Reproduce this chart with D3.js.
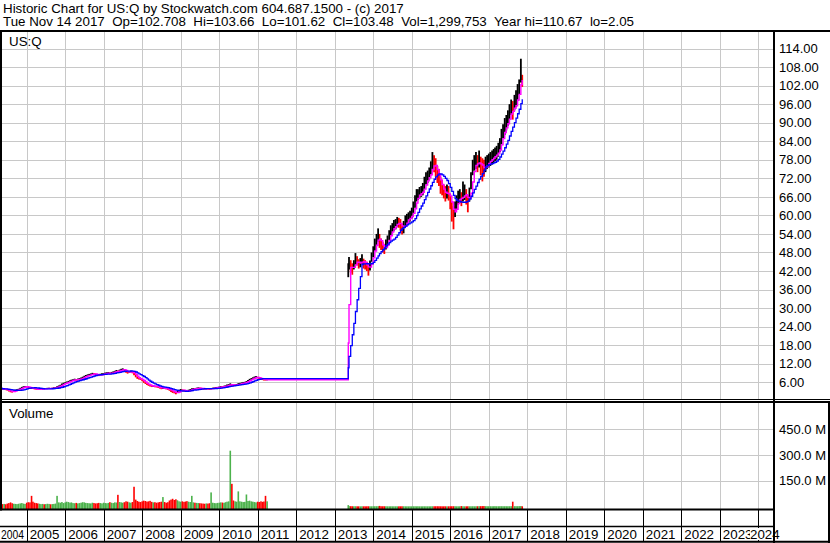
<!DOCTYPE html>
<html><head><meta charset="utf-8">
<script src="https://cdn.jsdelivr.net/npm/d3@7"></script>
<style>
html,body{margin:0;padding:0;background:#fff;}
svg{display:block;font-family:"Liberation Sans",Arial,sans-serif;}
text{white-space:pre;}
</style></head><body>
<svg id="c" width="830" height="543"></svg>
<script>
const title = "Historic Chart for US:Q by Stockwatch.com 604.687.1500 - (c) 2017";
const quote = "Tue Nov 14 2017  Op=102.708  Hi=103.66  Lo=101.62  Cl=103.48  Vol=1,299,753  Year hi=110.67  lo=2.05";
const symbol = "US:Q";
const volumeTitle = "Volume";
const yearLabels = [2004,2005,2006,2007,2008,2009,2010,2011,2012,2013,2014,2015,2016,2017,2018,2019,2020,2021,2022,2023,2024];
const priceTicks = [6,12,18,24,30,36,42,48,54,60,66,72,78,84,90,96,102,108,114];
const volumeTicks = [150,300,450];

const dates = [
"2004-04-16","2004-05-01","2004-05-16","2004-06-01","2004-06-16","2004-07-01","2004-07-16","2004-08-01","2004-08-16","2004-09-01","2004-09-16","2004-10-01","2004-10-16","2004-11-01","2004-11-16","2004-12-01","2004-12-16",
"2005-01-01","2005-01-16","2005-02-01","2005-02-16","2005-03-01","2005-03-16","2005-04-01","2005-04-16","2005-05-01","2005-05-16","2005-06-01","2005-06-16","2005-07-01","2005-07-16","2005-08-01","2005-08-16","2005-09-01","2005-09-16","2005-10-01","2005-10-16","2005-11-01","2005-11-16","2005-12-01","2005-12-16",
"2006-01-01","2006-01-16","2006-02-01","2006-02-16","2006-03-01","2006-03-16","2006-04-01","2006-04-16","2006-05-01","2006-05-16","2006-06-01","2006-06-16","2006-07-01","2006-07-16","2006-08-01","2006-08-16","2006-09-01","2006-09-16","2006-10-01","2006-10-16","2006-11-01","2006-11-16","2006-12-01","2006-12-16",
"2007-01-01","2007-01-16","2007-02-01","2007-02-16","2007-03-01","2007-03-16","2007-04-01","2007-04-16","2007-05-01","2007-05-16","2007-06-01","2007-06-16","2007-07-01","2007-07-16","2007-08-01","2007-08-16","2007-09-01","2007-09-16","2007-10-01","2007-10-16","2007-11-01","2007-11-16","2007-12-01","2007-12-16",
"2008-01-01","2008-01-16","2008-02-01","2008-02-16","2008-03-01","2008-03-16","2008-04-01","2008-04-16","2008-05-01","2008-05-16","2008-06-01","2008-06-16","2008-07-01","2008-07-16","2008-08-01","2008-08-16","2008-09-01","2008-09-16","2008-10-01","2008-10-16","2008-11-01","2008-11-16","2008-12-01","2008-12-16",
"2009-01-01","2009-01-16","2009-02-01","2009-02-16","2009-03-01","2009-03-16","2009-04-01","2009-04-16","2009-05-01","2009-05-16","2009-06-01","2009-06-16","2009-07-01","2009-07-16","2009-08-01","2009-08-16","2009-09-01","2009-09-16","2009-10-01","2009-10-16","2009-11-01","2009-11-16","2009-12-01","2009-12-16",
"2010-01-01","2010-01-16","2010-02-01","2010-02-16","2010-03-01","2010-03-16","2010-04-01","2010-04-16","2010-05-01","2010-05-16","2010-06-01","2010-06-16","2010-07-01","2010-07-16","2010-08-01","2010-08-16","2010-09-01","2010-09-16","2010-10-01","2010-10-16","2010-11-01","2010-11-16","2010-12-01","2010-12-16",
"2011-01-01","2011-01-16","2011-02-01","2011-02-16","2011-03-01","2011-03-16","2011-03-31",
"2013-05-09","2013-05-16","2013-06-01","2013-06-16","2013-07-01","2013-07-16","2013-08-01","2013-08-16","2013-09-01","2013-09-16","2013-10-01","2013-10-16","2013-11-01","2013-11-16","2013-12-01","2013-12-16",
"2014-01-01","2014-01-16","2014-02-01","2014-02-16","2014-03-01","2014-03-16","2014-04-01","2014-04-16","2014-05-01","2014-05-16","2014-06-01","2014-06-16","2014-07-01","2014-07-16","2014-08-01","2014-08-16","2014-09-01","2014-09-16","2014-10-01","2014-10-16","2014-11-01","2014-11-16","2014-12-01","2014-12-16",
"2015-01-01","2015-01-16","2015-02-01","2015-02-16","2015-03-01","2015-03-16","2015-04-01","2015-04-16","2015-05-01","2015-05-16","2015-06-01","2015-06-16","2015-07-01","2015-07-16","2015-08-01","2015-08-16","2015-09-01","2015-09-16","2015-10-01","2015-10-16","2015-11-01","2015-11-16","2015-12-01","2015-12-16",
"2016-01-01","2016-01-16","2016-02-01","2016-02-16","2016-03-01","2016-03-16","2016-04-01","2016-04-16","2016-05-01","2016-05-16","2016-06-01","2016-06-16","2016-07-01","2016-07-16","2016-08-01","2016-08-16","2016-09-01","2016-09-16","2016-10-01","2016-10-16","2016-11-01","2016-11-16","2016-12-01","2016-12-16",
"2017-01-01","2017-01-16","2017-02-01","2017-02-16","2017-03-01","2017-03-16","2017-04-01","2017-04-16","2017-05-01","2017-05-16","2017-06-01","2017-06-16","2017-07-01","2017-07-16","2017-08-01","2017-08-16","2017-09-01","2017-09-16","2017-10-01","2017-10-16","2017-11-01","2017-11-14"
];

const closes = [
4.05,3.90,3.75,3.80,3.65,3.45,3.20,2.95,2.85,3.15,3.40,3.55,3.70,4.00,4.30,4.50,4.60,
4.50,4.35,4.20,4.05,3.95,3.85,3.75,3.65,3.75,3.85,3.90,3.85,3.95,4.00,4.05,3.95,4.05,4.15,4.25,4.45,4.70,4.95,5.35,5.60,
5.75,5.95,6.20,6.40,6.55,6.75,6.85,6.70,6.90,7.05,7.25,7.50,7.80,8.05,8.25,8.40,8.55,8.75,8.70,8.55,8.35,8.25,8.45,8.60,
8.70,8.85,8.95,9.00,8.80,9.05,9.20,9.40,9.65,9.50,9.80,10.05,10.20,9.95,9.40,9.10,9.30,9.45,9.20,8.60,7.90,7.40,7.15,7.00,
6.60,6.10,5.70,5.40,5.10,4.85,4.70,4.80,4.65,4.55,4.40,4.20,4.00,4.10,4.00,3.90,3.80,3.55,3.20,2.90,2.75,2.50,2.85,3.25,
3.55,3.40,3.30,3.20,3.10,3.35,3.55,3.80,3.90,3.85,4.00,4.10,4.05,3.95,3.90,3.85,3.95,3.90,3.80,3.95,4.05,4.15,4.25,4.30,
4.40,4.55,4.50,4.65,4.80,5.00,5.15,5.35,5.10,5.00,5.10,5.20,5.45,5.55,5.70,5.85,5.90,6.15,6.45,6.80,7.05,7.30,7.55,7.70,
7.50,7.25,7.05,6.95,6.85,6.80,6.85,
42.5,44.0,43.0,42.5,44.0,45.5,45.0,44.0,44.8,45.8,44.5,44.0,43.5,42.5,43.8,46.5,
48.5,50.5,52.0,53.5,51.5,50.5,49.5,48.8,50.5,51.8,53.5,55.0,55.5,56.5,57.0,57.8,57.5,56.8,55.5,56.0,58.0,58.5,59.0,59.5,
60.5,62.0,64.0,66.0,66.5,67.0,67.5,68.0,70.0,71.5,72.0,73.0,74.5,77.0,76.5,75.0,73.0,72.0,69.5,68.5,67.5,66.5,67.5,67.0,
64.5,61.5,60.0,62.0,64.0,65.5,66.0,65.0,66.5,67.5,66.0,64.0,66.5,71.0,75.0,76.5,77.0,76.5,77.5,76.0,75.5,75.0,76.0,77.0,
77.5,78.0,78.5,79.0,79.5,80.0,81.0,82.5,85.0,87.0,88.5,89.5,91.0,93.0,94.5,93.5,96.0,97.0,99.0,101.5,106.5,103.5
];

const highs = [
4.30,4.15,4.00,4.00,3.85,3.75,3.50,3.25,3.10,3.35,3.60,3.75,3.90,4.20,4.50,4.70,4.80,
4.70,4.60,4.45,4.30,4.15,4.05,3.95,3.85,3.95,4.05,4.10,4.05,4.15,4.20,4.25,4.15,4.25,4.35,4.45,4.70,4.95,5.20,5.60,5.85,
6.00,6.25,6.45,6.65,6.85,7.00,7.15,7.00,7.20,7.35,7.55,7.80,8.10,8.35,8.55,8.70,8.85,9.05,9.00,8.85,8.65,8.55,8.75,8.90,
9.00,9.15,9.25,9.30,9.15,9.35,9.50,9.70,9.95,9.85,10.10,10.35,10.50,10.30,9.85,9.45,9.60,9.75,9.55,9.10,8.40,7.85,7.50,7.30,
7.00,6.50,6.05,5.70,5.40,5.15,5.00,5.05,4.90,4.80,4.65,4.45,4.25,4.30,4.25,4.15,4.05,3.90,3.60,3.30,3.10,2.85,3.20,3.55,
3.80,3.70,3.60,3.50,3.40,3.60,3.80,4.05,4.15,4.10,4.25,4.35,4.30,4.20,4.10,4.05,4.15,4.10,4.00,4.15,4.25,4.35,4.45,4.50,
4.60,4.75,4.75,4.85,5.00,5.25,5.40,5.65,5.40,5.25,5.35,5.45,5.70,5.80,5.95,6.10,6.15,6.40,6.75,7.10,7.35,7.60,7.85,8.00,
7.80,7.55,7.35,7.20,7.10,7.05,7.05,
44.5,46.5,45.5,44.5,45.5,47.8,46.8,45.8,46.2,47.4,46.0,45.5,45.0,44.5,45.4,48.0,
50.0,52.5,54.0,55.8,54.0,52.5,51.5,50.8,52.2,53.5,55.2,56.8,57.5,58.5,58.8,59.5,59.2,58.8,57.5,58.2,60.0,60.5,61.0,61.5,
62.5,64.5,66.5,68.5,68.5,69.2,69.5,70.5,72.5,74.0,74.5,75.5,77.5,80.5,79.5,78.5,76.0,75.0,72.5,71.5,70.0,69.5,70.0,69.5,
67.0,64.5,63.0,64.5,66.5,68.0,68.5,67.5,71.0,70.0,68.5,66.5,69.0,74.0,78.0,79.5,80.5,79.5,81.0,79.0,78.5,78.0,79.0,79.5,
80.0,80.5,81.0,81.5,82.0,82.5,83.5,85.0,88.0,89.5,91.5,92.5,94.0,96.0,97.5,97.0,99.0,100.5,102.5,104.0,110.7,105.5
];

const lows = [
3.80,3.70,3.55,3.60,3.45,3.30,3.00,2.75,2.65,2.85,3.15,3.35,3.50,3.75,4.05,4.30,4.40,
4.30,4.15,4.00,3.85,3.80,3.70,3.60,3.50,3.60,3.70,3.75,3.70,3.80,3.85,3.90,3.80,3.90,4.00,4.10,4.25,4.50,4.75,5.10,5.35,
5.50,5.70,5.95,6.15,6.30,6.50,6.60,6.45,6.65,6.80,7.00,7.25,7.55,7.80,8.00,8.15,8.30,8.50,8.45,8.30,8.10,8.00,8.20,8.35,
8.45,8.60,8.70,8.75,8.55,8.80,8.95,9.15,9.40,9.25,9.55,9.80,9.90,9.70,9.10,8.80,9.05,9.20,8.90,8.30,7.60,7.10,6.90,6.75,
6.35,5.80,5.45,5.15,4.85,4.60,4.45,4.55,4.40,4.30,4.15,3.95,3.75,3.85,3.80,3.70,3.55,3.25,2.85,2.55,2.40,2.10,2.55,2.95,
3.30,3.15,3.05,2.95,2.85,3.10,3.30,3.55,3.65,3.60,3.75,3.85,3.80,3.70,3.65,3.60,3.70,3.65,3.55,3.70,3.85,3.95,4.05,4.10,
4.20,4.35,4.30,4.45,4.60,4.80,4.95,5.10,4.85,4.75,4.85,4.95,5.20,5.30,5.45,5.60,5.65,5.90,6.20,6.55,6.80,7.05,7.30,7.45,
7.25,7.00,6.80,6.70,6.60,6.55,6.65,
40.0,42.5,41.5,40.8,42.5,44.0,43.8,42.8,43.2,44.2,42.8,42.5,42.0,40.5,42.2,45.0,
46.5,48.5,50.0,51.5,49.5,48.8,48.0,47.5,49.0,50.2,52.0,53.5,54.2,55.0,55.5,56.2,56.0,55.2,53.8,54.2,56.5,57.0,57.5,58.0,
59.0,60.5,62.5,64.5,65.0,65.5,66.0,66.5,68.5,70.0,70.5,71.5,73.0,75.0,74.0,72.5,70.5,69.5,67.0,66.5,65.5,64.5,65.5,64.8,
62.0,58.0,55.5,59.5,62.0,63.5,64.0,63.0,64.5,65.0,63.5,61.0,64.5,68.5,73.0,74.5,75.0,74.0,75.5,73.0,71.0,72.5,74.0,75.0,
75.5,76.0,76.5,77.0,77.5,78.0,79.0,80.5,83.0,85.0,86.0,87.5,89.0,91.0,92.5,91.0,94.0,95.0,97.0,99.0,103.0,101.6
];

// volume in millions of shares
const volumes = [
18,16,14,15,13,17,20,24,19,16,15,14,16,18,20,17,15,
22,25,24,62,28,22,20,18,16,14,15,13,14,16,15,13,14,15,17,62,24,22,26,20,
24,28,26,22,24,20,19,21,18,20,22,25,24,21,20,19,18,22,20,18,19,21,20,18,
22,20,19,21,25,22,20,24,23,68,26,24,22,25,30,28,24,22,26,115,40,32,28,26,
30,34,32,28,30,33,27,24,25,22,24,26,28,55,26,22,25,35,40,45,38,42,36,30,
28,30,27,29,31,28,26,62,24,22,21,20,19,18,17,16,18,17,19,82,22,20,19,21,
22,24,23,21,25,28,30,325,132,35,30,28,88,30,28,26,27,70,32,34,30,28,26,24,
28,26,30,27,29,62,30,
8.0,2.5,1.8,1.5,1.2,1.4,1.1,1.0,0.9,1.2,1.0,0.9,1.1,1.3,1.0,1.2,
1.3,1.5,1.6,1.4,3.5,1.5,1.3,1.4,1.2,1.1,1.0,1.1,1.0,0.9,1.0,0.9,1.0,1.1,1.2,1.3,1.1,1.0,0.9,1.1,
1.0,1.2,1.3,1.1,1.0,1.0,0.9,1.0,1.1,1.0,1.0,0.9,1.1,1.3,1.2,1.4,1.5,1.3,1.2,1.1,1.0,1.0,0.9,1.1,
1.2,1.5,1.6,1.3,1.2,1.1,1.3,2.5,1.2,1.1,1.0,1.2,1.1,1.3,1.4,1.2,1.3,1.4,1.8,2.0,2.2,2.5,1.9,1.7,
1.6,1.5,1.4,1.5,1.6,1.5,1.4,1.6,1.7,1.5,1.6,1.5,1.4,1.6,1.8,28,1.9,1.7,1.8,2.2,2.4,1.3
];

const shortWindow = 3;   // magenta moving average (records)
const longWindow = 10;   // blue moving average (records)

// ---------------------------------------------------------------
const parse = d3.timeParse("%Y-%m-%d");
const rows = dates.map((d, i) => ({
  date: parse(d), close: closes[i], high: highs[i], low: lows[i], vol: volumes[i],
  dir: i === 0 ? 0 : Math.sign(closes[i] - closes[i - 1])
}));
function movingAverage(n) {
  return rows.map((r, i) => ({
    date: r.date,
    v: d3.mean(closes.slice(Math.max(0, i - n + 1), i + 1))
  }));
}
const maShort = movingAverage(shortWindow);
const maLong = movingAverage(longWindow);

const W = 830, H = 543;
const plotL = 2, plotR = 773;
const priceTop = 32, priceBot = 399;
const volTop = 402, volBot = 509;
const font = 13.33, axisFont = 13;

const x = d3.scaleTime()
  .domain([new Date(2005, 0, 1), new Date(2024, 0, 1)])
  .range([26.7, 758.3]);
const y = d3.scaleLinear().domain([0, 120]).range([400.8, 30]);
const yv = d3.scaleLinear().domain([0, 600]).range([506.5, 403.5]);

const svg = d3.select("#c");
svg.append("rect").attr("width", W).attr("height", H).attr("fill", "#fff");
const defs = svg.append("defs");
defs.append("clipPath").attr("id", "cp").append("rect")
  .attr("x", plotL).attr("y", priceTop).attr("width", plotR - plotL).attr("height", priceBot - priceTop);
defs.append("clipPath").attr("id", "cv").append("rect")
  .attr("x", plotL).attr("y", volTop).attr("width", plotR - plotL).attr("height", volBot - volTop);

// header
svg.append("text").attr("x", 3).attr("y", 12.5).attr("font-size", font).attr("fill", "#000")
  .attr("xml:space", "preserve").text(title);
svg.append("text").attr("x", 3).attr("y", 26).attr("font-size", font).attr("fill", "#000")
  .attr("xml:space", "preserve").text(quote);

const years = yearLabels.map(yy => new Date(yy, 0, 1));
const grid = "#c8c8c8";

// price grid
const gp = svg.append("g");
gp.selectAll("line.h").data(priceTicks).join("line")
  .attr("x1", plotL).attr("x2", plotR)
  .attr("y1", d => Math.round(y(d)) + 0.5).attr("y2", d => Math.round(y(d)) + 0.5)
  .attr("stroke", grid);
gp.selectAll("line.v").data(years.filter(d => x(d) > plotL && x(d) < plotR)).join("line")
  .attr("x1", d => Math.round(x(d)) + 0.5).attr("x2", d => Math.round(x(d)) + 0.5)
  .attr("y1", priceTop).attr("y2", priceBot).attr("stroke", grid);

// volume grid
const gv = svg.append("g");
gv.selectAll("line.h").data(volumeTicks).join("line")
  .attr("x1", plotL).attr("x2", plotR)
  .attr("y1", d => Math.round(yv(d)) + 0.5).attr("y2", d => Math.round(yv(d)) + 0.5)
  .attr("stroke", grid);
gv.selectAll("line.v").data(years.filter(d => x(d) > plotL && x(d) < plotR)).join("line")
  .attr("x1", d => Math.round(x(d)) + 0.5).attr("x2", d => Math.round(x(d)) + 0.5)
  .attr("y1", volTop).attr("y2", volBot).attr("stroke", grid);

// price bars: down bars first, black bars on top
const pg = svg.append("g").attr("clip-path", "url(#cp)");
const barOrder = rows.slice().sort((a, b) => (a.dir < 0 ? 0 : 1) - (b.dir < 0 ? 0 : 1));
pg.selectAll("line.bar").data(barOrder).join("line")
  .attr("x1", d => x(d.date)).attr("x2", d => x(d.date))
  .attr("y1", d => y(d.low)).attr("y2", d => y(d.high))
  .attr("stroke", d => d.dir < 0 ? "#ff0000" : "#000000")
  .attr("stroke-width", 1.8);

const line = d3.line().x(d => x(d.date)).y(d => y(d.v)).curve(d3.curveStepAfter);
pg.append("path").datum(maShort).attr("d", line).attr("fill", "none")
  .attr("stroke", "#ff00ff").attr("stroke-width", 1.4);
pg.append("path").datum(maLong).attr("d", line).attr("fill", "none")
  .attr("stroke", "#0000ff").attr("stroke-width", 1.3);

// volume bars
const vg = svg.append("g").attr("clip-path", "url(#cv)");
vg.selectAll("rect").data(rows).join("rect")
  .attr("x", d => x(d.date) - 0.8).attr("width", 1.6)
  .attr("y", d => yv(d.vol)).attr("height", d => volBot + 1 - yv(d.vol))
  .attr("fill", d => d.dir > 0 ? "#4cb24c" : (d.dir < 0 ? "#ff0000" : "#a0a0a0"));

// panel labels
svg.append("text").attr("x", 9).attr("y", 46).attr("font-size", font).attr("fill", "#000").text(symbol);
svg.append("text").attr("x", 9).attr("y", 417.5).attr("font-size", font).attr("fill", "#000").text(volumeTitle);

// right axis labels
svg.selectAll("text.pt").data(priceTicks).join("text")
  .attr("x", 779).attr("y", d => y(d)).attr("dy", "0.36em")
  .attr("font-size", axisFont).attr("fill", "#000").text(d => d3.format(".2f")(d));
svg.selectAll("text.vt").data(volumeTicks).join("text")
  .attr("x", 779).attr("y", d => yv(d)).attr("dy", "0.36em")
  .attr("font-size", axisFont).attr("fill", "#000").text(d => d3.format(".1f")(d) + " M");

// x axis band
const xb = svg.append("g");
xb.selectAll("line").data(years.filter(d => x(d) > 0 && x(d) < plotR)).join("line")
  .attr("x1", d => Math.round(x(d)) + 0.5).attr("x2", d => Math.round(x(d)) + 0.5)
  .attr("y1", volBot).attr("y2", 542).attr("stroke", "#000");
const lbl = xb.selectAll("g.l").data(years).join("g");
lbl.each(function (d) {
  const g = d3.select(this);
  const raw = x(d) + 3;
  const tx = Math.max(1, Math.min(raw, 750));
  const bg = g.append("rect").attr("y", 528).attr("height", 12).attr("fill", "#fff");
  const t = g.append("text").attr("x", tx).attr("y", 539.3).attr("font-size", font)
    .attr("fill", "#000").text(d.getFullYear());
  if (raw < 1) t.attr("textLength", 23).attr("lengthAdjust", "spacingAndGlyphs");
  bg.attr("x", tx).attr("width", t.node().getComputedTextLength());
});

// frame lines
const frame = svg.append("g").attr("stroke", "#000").attr("fill", "none");
frame.append("line").attr("x1", 0).attr("x2", W).attr("y1", 31).attr("y2", 31).attr("stroke-width", 2);
frame.append("line").attr("x1", 1).attr("x2", 1).attr("y1", 30).attr("y2", 510.5).attr("stroke-width", 2);
frame.append("line").attr("x1", 0).attr("x2", W).attr("y1", 399.5).attr("y2", 399.5).attr("stroke-width", 1);
frame.append("line").attr("x1", 0).attr("x2", W).attr("y1", 402).attr("y2", 402).attr("stroke-width", 2);
frame.append("line").attr("x1", 0).attr("x2", 774).attr("y1", 509.5).attr("y2", 509.5).attr("stroke-width", 2);
frame.append("line").attr("x1", 0).attr("x2", 774).attr("y1", 526.5).attr("y2", 526.5).attr("stroke-width", 1.5);
frame.append("line").attr("x1", 0).attr("x2", W).attr("y1", 541.7).attr("y2", 541.7).attr("stroke-width", 2);
frame.append("line").attr("x1", 774).attr("x2", 774).attr("y1", 30).attr("y2", H).attr("stroke-width", 2);
frame.append("line").attr("x1", 829).attr("x2", 829).attr("y1", 401).attr("y2", H).attr("stroke-width", 2);
</script>
</body></html>
